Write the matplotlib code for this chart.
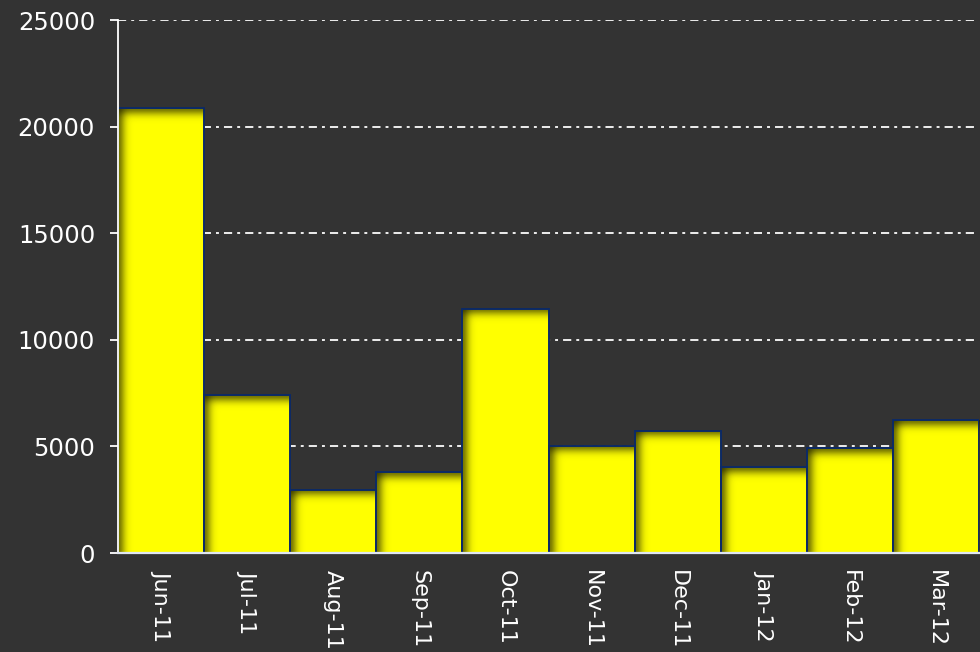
import numpy as np
import matplotlib
matplotlib.use("Agg")
import matplotlib.pyplot as plt

months = ["Jun-11", "Jul-11", "Aug-11", "Sep-11", "Oct-11",
          "Nov-11", "Dec-11", "Jan-12", "Feb-12", "Mar-12"]
values = [20860, 7390, 2970, 3780, 11450, 5020, 5740, 4030, 4920, 6220]
yticks = [0, 5000, 10000, 15000, 20000, 25000]

BG = "#333333"
plt.rcParams['font.family'] = ['DejaVu Sans']

fig = plt.figure(figsize=(9.8, 6.52), dpi=100, facecolor=BG)
ax = fig.add_axes([0.1204, 0.1518, 0.8786, 0.8175])
ax.set_facecolor(BG)

x = np.arange(len(months))
bars = ax.bar(x, values, width=1.0, color="#ffff00", edgecolor="none", zorder=2)
ax.bar(x, values, width=1.0, fill=False, edgecolor="#0c2a66", linewidth=1.4, zorder=4)

ax.set_xlim(-0.5, len(months) - 0.5)
ax.set_ylim(0, 25000)
ax.set_yticks(yticks)
ax.set_xticks(x)
ax.set_xticklabels(months)

ax.yaxis.grid(True, color="#eeeeee", linewidth=1.4, linestyle=(0, (4.2, 2.6, 1.5, 2.6)), zorder=1)
ax.set_axisbelow(True)

for s in ["top", "right"]:
    ax.spines[s].set_visible(False)
ax.spines["left"].set_color("#ffffff")
ax.spines["left"].set_linewidth(1.3)
ax.spines["left"].set_zorder(5)
ax.spines["bottom"].set_color("#dfe6f2")
ax.spines["bottom"].set_linewidth(1.6)
ax.spines["bottom"].set_zorder(5)

ax.tick_params(axis="y", colors="#ffffff", labelsize=17.5, length=6, width=1.3,
               direction="out", pad=10.5)
ax.tick_params(axis="x", colors="#ffffff", labelsize=16, length=0,
               labelrotation=-90, pad=12)
for lab in ax.get_xticklabels():
    lab.set_verticalalignment("top")
    lab.set_horizontalalignment("center")

# inner shadow along left and top edges of each bar
fig.canvas.draw()
tr = ax.transData
for b in bars:
    x0, y0, w, h = b.get_x(), b.get_y(), b.get_width(), b.get_height()
    (px0, py0), (px1, py1) = tr.transform([(x0, y0), (x0 + w, y0 + h)])
    nx = max(int(round(px1 - px0)), 2)
    ny = max(int(round(py1 - py0)), 2)
    dx = np.arange(nx)[None, :] + 0.5
    dy = np.arange(ny)[:, None] + 0.5  # from top
    s = 7.0
    a_left = 0.62 * np.exp(-(dx / s) ** 2)
    a_top = 0.62 * np.exp(-(dy / s) ** 2)
    a = 1 - (1 - a_left) * (1 - a_top)
    img = np.zeros((ny, nx, 4))
    img[..., 0] = 0.12
    img[..., 1] = 0.12
    img[..., 2] = 0.0
    img[..., 3] = a
    ax.imshow(img, extent=[x0, x0 + w, y0, y0 + h], origin="upper",
              aspect="auto", interpolation="bilinear", zorder=3)

ax.set_xlim(-0.5, len(months) - 0.5)
ax.set_ylim(0, 25000)

fig.savefig("out.png", dpi=100, facecolor=BG)
